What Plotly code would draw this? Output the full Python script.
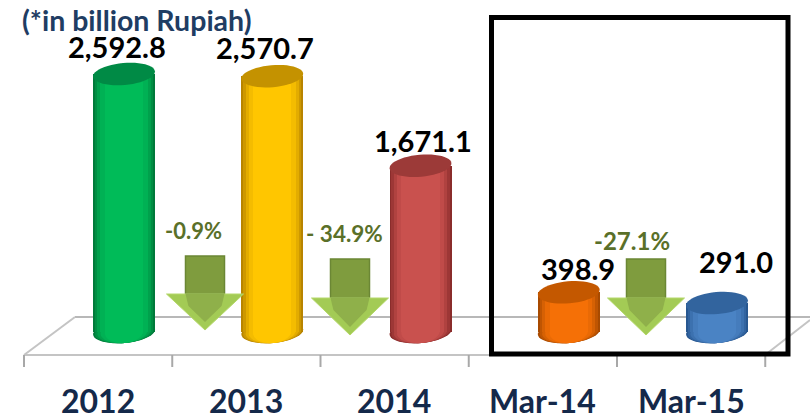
import math
import plotly.graph_objects as go

# ---- data ----
categories = ["2012", "2013", "2014", "Mar-14", "Mar-15"]
values = [2592.8, 2570.7, 1671.1, 398.9, 291.0]
value_labels = ["2,592.8", "2,570.7", "1,671.1", "398.9", "291.0"]
changes = ["-0.9%", "- 34.9%", "-27.1%"]

# ---- styling: (edge, centre, top-cap) ----
palette = [
    ("#007a3a", "#00bb58", "#008a45"),
    ("#b88400", "#ffc600", "#c49200"),
    ("#8a2c2b", "#c9514e", "#9c3a38"),
    ("#a84a00", "#f57006", "#c45800"),
    ("#275790", "#4a83c4", "#32649e"),
]
W, H = 810, 420
X0, DX = 124.0, 148.25   # pixel of first category, pixels per category
Y0, PPU = 332.0, 0.0995  # pixel of zero, pixels per unit
BAR_PX = 62
CAP_H = 22
TILT = math.radians(5)
widths = [1.0, 0.94, 0.86, 0.76, 0.62]
blend_steps = [0.0, 0.3, 0.6, 0.85, 1.0]

def hex2rgb(h): return [int(h[k:k + 2], 16) for k in (1, 3, 5)]
def blend(a, b, t):
    ra, rb = hex2rgb(a), hex2rgb(b)
    return "rgb(%d,%d,%d)" % tuple(round(p + (q - p) * t) for p, q in zip(ra, rb))
def grad(i):
    return [blend(palette[i][0], palette[i][1], t) for t in blend_steps]

def px(x): return x / W
def py(y): return 1 - y / H
def dx(p): return (p - X0) / DX
def dy(p): return (Y0 - p) / PPU

fig = go.Figure()
shapes = []

def line(x0, y0, x1, y1, color="#b5b5b5", width=2.2, layer="below"):
    shapes.append(dict(type="line", xref="paper", yref="paper", x0=px(x0), y0=py(y0),
                       x1=px(x1), y1=py(y1), line=dict(color=color, width=width), layer=layer))

def ellipse_path(i, v, f=1.0):
    """Tilted ellipse around bar i at value v, in data coordinates."""
    a, b = BAR_PX / 2 * f, CAP_H / 2
    pts = []
    for k in range(48):
        th = 2 * math.pi * k / 48
        ex, ey = a * math.cos(th), b * math.sin(th)
        rx = ex * math.cos(TILT) + ey * math.sin(TILT)
        ry = -ex * math.sin(TILT) + ey * math.cos(TILT)
        pts.append((i + rx / DX, v - ry / PPU))
    return "M" + " L".join(f"{x:.4f},{y:.2f}" for x, y in pts) + " Z"

# floor of the 3D chart
line(75, 317, 810, 317, "#b8b8b8", 2)
line(24, 355, 765, 355, "#c4c4c4", 2)
line(24, 355, 75, 317, "#c4c4c4", 2)
line(765, 355, 810, 320, "#c4c4c4", 2)
for i in range(6):
    t = 24 + i * DX
    line(t, 355, t, 367, "#a8a8a8", 2)

# bottom ellipses (below bars), graded
for i, v in enumerate(values):
    for f, col in zip(widths, grad(i)):
        shapes.append(dict(type="path", xref="x", yref="y", path=ellipse_path(i, 0, f),
                           fillcolor=col, line=dict(width=0), layer="below"))

# cylinder bodies, overlaid bars give the horizontal shading
for j, f in enumerate(widths):
    fig.add_trace(go.Bar(x=list(range(len(values))), y=values, width=BAR_PX / DX * f,
                         marker=dict(color=[grad(i)[j] for i in range(len(values))], line=dict(width=0)),
                         showlegend=False, hoverinfo="skip"))

# top caps
for i, v in enumerate(values):
    shapes.append(dict(type="path", xref="x", yref="y", path=ellipse_path(i, v),
                       fillcolor=palette[i][2], line=dict(width=0), layer="above"))

# down arrows
def arrow(cx, top, tip, head, headw=38.5, shaftw=19.5):
    shaft = f"M{px(cx-shaftw)},{py(top)} L{px(cx+shaftw)},{py(top)} L{px(cx+shaftw)},{py(head)} L{px(cx-shaftw)},{py(head)} Z"
    shapes.append(dict(type="path", xref="paper", yref="paper", path=shaft, fillcolor="#7f9c3e",
                       line=dict(color="#6b8735", width=1.5), layer="above"))
    hd = f"M{px(cx-headw)},{py(head)} L{px(cx+headw)},{py(head)} L{px(cx)},{py(tip)} Z"
    shapes.append(dict(type="path", xref="paper", yref="paper", path=hd, fillcolor="#a3cb55",
                       line=dict(color="#b5d86a", width=1), layer="above"))
    inner = f"M{px(cx-shaftw)},{py(head)} L{px(cx+shaftw)},{py(head)} L{px(cx+shaftw*0.85)},{py(head+12)} L{px(cx)},{py(tip-8)} L{px(cx-shaftw*0.85)},{py(head+12)} Z"
    shapes.append(dict(type="path", xref="paper", yref="paper", path=inner, fillcolor="#8fb04a",
                       line=dict(width=0), layer="above"))

arrow(205, 256, 330, 294)
arrow(350, 259, 335, 298)
arrow(646, 259, 335, 298)

# highlight box
shapes.append(dict(type="rect", xref="paper", yref="paper", x0=px(491.5), x1=px(788), y0=py(354), y1=py(17.5),
                   line=dict(color="#000000", width=5), fillcolor="rgba(0,0,0,0)", layer="above"))

FONT = "Lato, Carlito, 'Open Sans', sans-serif"
ann = []
def text(x, y, s, size, color, xanchor="center"):
    ann.append(dict(x=px(x), y=py(y), xref="paper", yref="paper", text=f"<b>{s}</b>", showarrow=False,
                    xanchor=xanchor, yanchor="middle", font=dict(family=FONT, size=size, color=color)))

text(20, 20, "(*in billion Rupiah)", 28.5, "#1f3d63", "left")
for s, x, y in zip(value_labels, [117, 265, 423, 578, 736], [46, 47, 141, 268, 261]):
    text(x, y, s, 29, "#000000")
for s, x in zip(categories, [98, 246, 394, 542, 691]):
    text(x, 400.5, s, 32, "#14294a")
for s, x, y, size in zip(changes, [193, 344, 632], [230, 233, 240], [22, 22.5, 24]):
    text(x, y, s, size, "#5a7029")

fig.update_layout(
    width=W, height=H, margin=dict(l=0, r=0, t=0, b=0), barmode="overlay", bargap=0,
    paper_bgcolor="white", plot_bgcolor="white", shapes=shapes, annotations=ann, showlegend=False,
    xaxis=dict(range=[dx(0), dx(W)], visible=False, fixedrange=True),
    yaxis=dict(range=[dy(H), dy(0)], visible=False, fixedrange=True),
)
fig.write_html("out.html", config={"displayModeBar": False},
               post_script="document.body.style.margin='0';document.documentElement.style.overflow='hidden';")
